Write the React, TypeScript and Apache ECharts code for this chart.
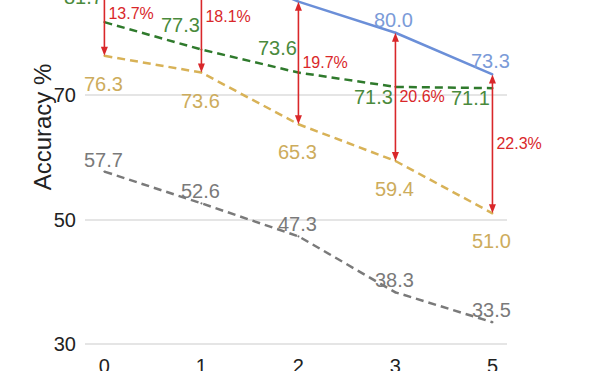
import React, { useEffect, useRef } from "react";
import * as echarts from "echarts";

const xLabels = ["0", "1", "2", "3", "5"];
const blueVals = [90.0, 91.7, 85.0, 80.0, 73.3];
const greenVals = [81.7, 77.3, 73.6, 71.3, 71.1];
const yellowVals = [76.3, 73.6, 65.3, 59.4, 51.0];
const grayVals = [57.7, 52.6, 47.3, 38.3, 33.5];
const gapLabels = ["13.7%", "18.1%", "19.7%", "20.6%", "22.3%"];
const yTicks = [30, 50, 70, 90];

const FONT = "'Liberation Sans Narrow', 'Liberation Sans', Arial, sans-serif";

export default function App() {
  const ref = useRef<HTMLDivElement>(null);
  useEffect(() => {
    if (!ref.current) return;
    const chart = echarts.init(ref.current, null, { renderer: "svg" });

    const lineSeries = (
      name: string,
      vals: number[],
      color: string,
      labelColor: string,
      dashed: boolean,
      off: (i: number) => [number, number]
    ) => ({
      name,
      type: "line",
      clip: false,
      data: vals.map((v, i) => ({
        value: [i, v],
        label: { position: "inside", offset: off(i) },
      })),
      symbol: "circle",
      symbolSize: 2,
      itemStyle: { color },
      lineStyle: { color, width: 2.5, type: dashed ? [8, 5] : "solid" },
      label: {
        show: true,
        color: labelColor,
        fontSize: 20,
        fontFamily: FONT,
        formatter: (p: any) => Number(p.value[1]).toFixed(1),
      },
      z: 3,
    });

    chart.setOption({
      animation: false,
      grid: {
        left: 85,
        right: 87,
        top: -29.5,
        bottom: 27,
        containLabel: false,
        outerBoundsMode: "none",
      },
      xAxis: {
        type: "value",
        min: -0.2,
        max: 4.15,
        axisLine: { show: false },
        axisTick: { show: false },
        splitLine: { show: false },
        axisLabel: {
          customValues: [0, 1, 2, 3, 4],
          formatter: (v: number) => xLabels[Math.round(v)] ?? "",
          fontSize: 20,
          fontFamily: FONT,
          color: "#222",
          margin: 12,
        },
      },
      yAxis: {
        type: "value",
        min: yTicks[0],
        max: yTicks[yTicks.length - 1],
        interval: 20,
        axisLine: { show: false },
        axisTick: { show: false },
        splitLine: { lineStyle: { color: "#dcdcdc", width: 1.5 } },
        axisLabel: {
          fontSize: 20,
          fontFamily: FONT,
          color: "#222",
          margin: 9,
        },
      },
      graphic: [
        {
          type: "text",
          x: 42,
          y: 127,
          rotation: Math.PI / 2,
          style: {
            text: "Accuracy %",
            fontSize: 24,
            fontFamily: FONT,
            fill: "#222",
            align: "center",
            verticalAlign: "middle",
          },
        },
      ],
      series: [
        lineSeries("gray", grayVals, "#7a7a7a", "#7a7a7a", true, () => [-1, -12]),
        lineSeries("yellow", yellowVals, "#d8b257", "#cdac5c", true, () => [-1, 28]),
        lineSeries("green", greenVals, "#2f7a2c", "#4a8a3c", true, (i) =>
          i < 3 ? [-21, -25] : [-22, 10]
        ),
        lineSeries("blue", blueVals, "#6b8fd8", "#7b9bd8", false, () => [-2, -13]),
        {
          type: "custom",
          clip: false,
          z: 5,
          data: blueVals.map((b, i) => [i, b, yellowVals[i]]),
          encode: { x: 0, y: [1, 2] },
          renderItem: (params: any, api: any) => {
            const x = api.value(0);
            const p1 = api.coord([x, api.value(1)]);
            const p2 = api.coord([x, api.value(2)]);
            const red = "#d9272a";
            const ah = 9;
            const aw = 3.5;
            return {
              type: "group",
              children: [
                {
                  type: "line",
                  shape: { x1: p1[0], y1: p1[1] + 4, x2: p2[0], y2: p2[1] - 4 },
                  style: { stroke: red, lineWidth: 1.6 },
                },
                {
                  type: "polygon",
                  shape: {
                    points: [
                      [p1[0], p1[1]],
                      [p1[0] - aw, p1[1] + ah],
                      [p1[0] + aw, p1[1] + ah],
                    ],
                  },
                  style: { fill: red },
                },
                {
                  type: "polygon",
                  shape: {
                    points: [
                      [p2[0], p2[1]],
                      [p2[0] - aw, p2[1] - ah],
                      [p2[0] + aw, p2[1] - ah],
                    ],
                  },
                  style: { fill: red },
                },
                {
                  type: "text",
                  x: p1[0] + 4,
                  y: (p1[1] + p2[1]) / 2,
                  style: {
                    text: gapLabels[params.dataIndex],
                    fill: red,
                    fontSize: 16,
                    fontFamily: FONT,
                    align: "left",
                    verticalAlign: "middle",
                  },
                },
              ],
            };
          },
        },
      ],
    });
    return () => chart.dispose();
  }, []);
  return <div ref={ref} style={{ width: 594, height: 371, position: "absolute", left: 0, top: 0 }} />;
}
